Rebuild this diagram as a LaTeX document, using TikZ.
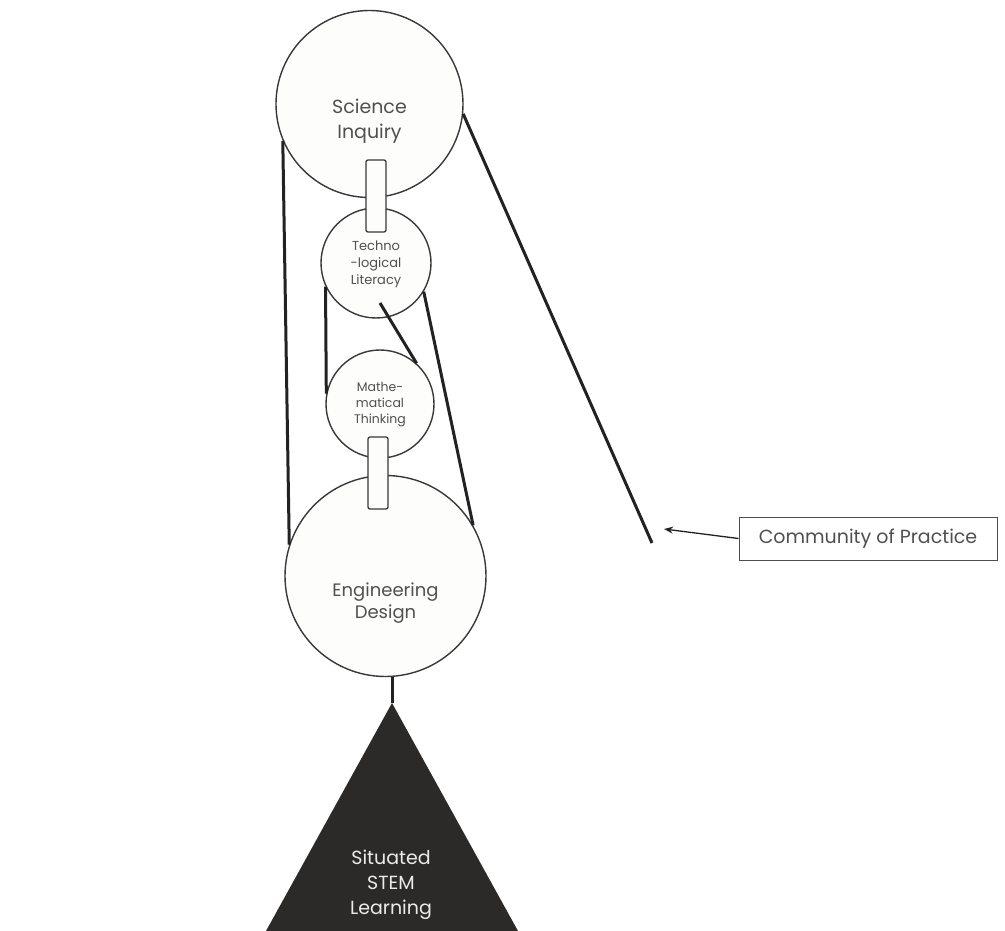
\documentclass[tikz,border=0pt]{standalone}
\usepackage{fontspec}
\setmainfont{Poppins}
\usetikzlibrary{arrows.meta,calc}
\definecolor{ink}{HTML}{222222}
\definecolor{txt}{HTML}{505050}
\definecolor{paper}{HTML}{FDFDFB}
\definecolor{tri}{HTML}{2B2A28}
\begin{document}
\begin{tikzpicture}[x=1pt,y=-1pt,
  ring/.style={circle,draw=ink!90,line width=1.4pt,fill=paper,inner sep=0pt},
  ringtext/.style={text=txt,align=center,inner sep=0pt},
  link/.style={draw=ink,line width=3pt},
  peg/.style={draw=ink!90,line width=1.3pt,fill=paper,rounded corners=2pt},
  lbl/.style={draw=ink!80,line width=1pt,fill=white,text=txt,minimum width=258pt,minimum height=43pt,inner sep=0pt}]
\useasboundingbox (0,0) rectangle (1005,931);
% circles
\node[ring,minimum size=187pt] (sci) at (369.5,104) {};
\node[ring,minimum size=110pt] (tech) at (376,263) {};
\node[ring,minimum size=108pt] (math) at (380,404) {};
\node[ring,minimum size=201pt] (eng) at (385.5,576) {};
\node[ringtext,font=\fontsize{19}{25}\selectfont] (scit) at ($(sci.center)+(0,17.5)$) {Science\\Inquiry};
\node[ringtext,font=\fontsize{13}{17}\selectfont] (techt) at ($(tech.center)+(0,1)$) {Techno\\-logical\\Literacy};
\node[ringtext,font=\fontsize{12.5}{16}\selectfont] (matht) at ($(math.center)+(0,1)$) {Mathe-\\matical\\Thinking};
\node[ringtext,font=\fontsize{18}{22}\selectfont] (engt) at ($(eng.center)+(0,27)$) {Engineering\\Design};
% pegs
\path[peg] (366,160) rectangle (386,232);
\path[peg] (368,437) rectangle (388,509);
% connectors
\coordinate (free) at (652,543);
\coordinate (inner) at (380,303);
\coordinate (apex) at (392,703);
\draw[link] (sci.203.7) -- (eng.162);
\draw[link] (sci.354.5) -- (free);
\draw[link] (tech.205) -- (math.169);
\draw[link] (tech.329) -- (eng.30.5);
\draw[link] (inner) -- (math.48);
\draw[link] (apex |- eng.south) -- (apex);
% triangle
\fill[tri] (apex) -- (266,931) -- (518,931) -- cycle;
\node[text=white!92!black,align=center,inner sep=0pt,font=\fontsize{19}{25}\selectfont] (stem) at (391,885) {Situated\\STEM\\Learning};
% label
\node[lbl,font=\fontsize{19}{22}\selectfont] (cop) at (868,538.5) {Community of Practice};
\draw[ink,line width=1.3pt,-{Stealth[length=9pt,width=7pt]}] (cop.west) -- (664,529);
\end{tikzpicture}
\end{document}
